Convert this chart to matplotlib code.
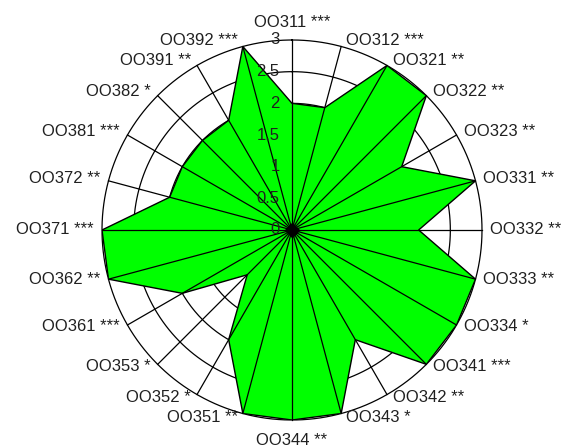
import numpy as np
import matplotlib
matplotlib.use("Agg")
import matplotlib.pyplot as plt

plt.rcParams['font.family'] = ['Liberation Sans', 'DejaVu Sans']

# categories clockwise from the top, with their significance stars
codes = ['OO311', 'OO312', 'OO321', 'OO322', 'OO323', 'OO331', 'OO332', 'OO333',
         'OO334', 'OO341', 'OO342', 'OO343', 'OO344', 'OO351', 'OO352', 'OO353',
         'OO361', 'OO362', 'OO371', 'OO372', 'OO381', 'OO382', 'OO391', 'OO392']
stars = ['***', '***', '**', '**', '**', '**', '**', '**',
         '*', '***', '**', '*', '**', '**', '*', '*',
         '***', '**', '***', '**', '***', '*', '**', '***']
values = [2, 2, 3, 3, 2, 3, 2, 3,
          3, 3, 2, 3, 3, 3, 2, 1,
          2, 3, 3, 2, 2, 2, 2, 3]
ring_levels = [0.5, 1, 1.5, 2, 2.5, 3]
ring_labels = ['0', '0.5', '1', '1.5', '2', '2.5', '3']
rmax = 3

W, H = 569, 447
cx, cy, rad = 292, 447 - 230, 190   # centre and outer radius in pixels

fig = plt.figure(figsize=(W / 100, H / 100), dpi=100)
ax = fig.add_axes([(cx - rad) / W, (cy - rad) / H, 2 * rad / W, 2 * rad / H],
                  projection='polar')
ax.set_theta_zero_location('N')
ax.set_theta_direction(-1)
ax.set_ylim(0, rmax)
ax.grid(False)
ax.set_xticks([])
ax.set_yticks([])
ax.spines['polar'].set_visible(False)
ax.patch.set_visible(False)

n = len(codes)
theta = np.arange(n) * 2 * np.pi / n

# circular grid
tt = np.linspace(0, 2 * np.pi, 400)
for r in ring_levels:
    ax.plot(tt, np.full_like(tt, r), color='black', lw=0.9, zorder=1, clip_on=False)

# data polygon
th_c = np.append(theta, theta[0])
v_c = np.append(values, values[0])
ax.fill(th_c, v_c, facecolor='#00ff00', edgecolor='black', lw=1, zorder=2)

# spokes
for t in theta:
    ax.plot([t, t], [0, rmax], color='black', lw=0.9, zorder=3, clip_on=False)
ax.plot(0, 0, marker='D', ms=7, color='black', zorder=4, clip_on=False)

# radial scale labels
for i, lab in enumerate(ring_labels):
    ax.annotate(lab, xy=(0, i * 0.5), xytext=(-9, 0), textcoords='offset points',
                ha='right', va='center', fontsize=12, color='#202020', zorder=5)

# category labels
for t, c, s in zip(theta, codes, stars):
    sn, cs = np.sin(t), np.cos(t)
    if abs(sn) < 0.2:
        ha = 'center'
        va = 'bottom' if cs > 0 else 'top'
        dx, dy = 0, (10 if cs > 0 else -13)
    else:
        ha = 'left' if sn > 0 else 'right'
        va = 'center'
        dx = (4 + 4 * abs(sn)) * np.sign(sn)
        dy = 5 * cs + 1
    ax.annotate(c + ' ' + s, xy=(t, rmax), xytext=(dx * 0.72, dy * 0.72),
                textcoords='offset points', ha=ha, va=va, fontsize=12,
                color='#202020', annotation_clip=False)

fig.savefig('out.png', dpi=100)
